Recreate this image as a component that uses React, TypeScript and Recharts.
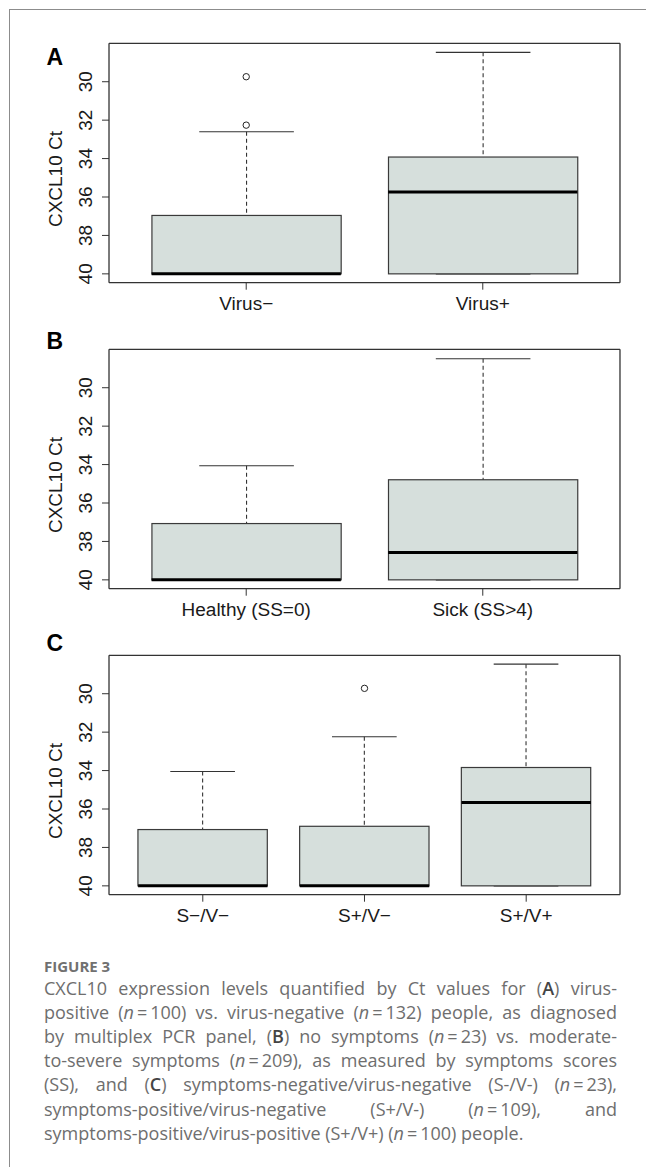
import React from 'react';
import { ComposedChart, Bar, Scatter, XAxis, YAxis } from 'recharts';

// shared y scale (Ct, reversed like the R plot)
const yDomain = [28.0, 40.46];
const yTicks = [30, 32, 34, 36, 38, 40];

// A: virus status
const catsA = ['Virus−', 'Virus+'];
const q1A = [40, 40];
const q3A = [36.96, 33.92];
const medA = [40, 35.74];
const wLoA = [40, 40];
const wHiA = [32.6, 28.47];
const outA = [[29.74, 32.26], []];

// B: symptom score
const catsB = ['Healthy (SS=0)', 'Sick (SS>4)'];
const q1B = [40, 40];
const q3B = [37.07, 34.79];
const medB = [40, 38.58];
const wLoB = [40, 40];
const wHiB = [34.06, 28.49];
const outB: number[][] = [[], []];

// C: symptoms x virus
const catsC = ['S−/V−', 'S+/V−', 'S+/V+'];
const q1C = [40, 40, 40];
const q3C = [37.07, 36.9, 33.84];
const medC = [40, 40, 35.66];
const wLoC = [40, 40, 40];
const wHiC = [34.05, 32.24, 28.46];
const outC = [[], [29.72], []];

const FONT = '"Liberation Sans", Arial, Helvetica, sans-serif';
const PLOT_W = 511;
const PLOT_H = 239.4;
const BOX_FILL = '#d6dfdc';
const INK = '#333';

const YTick = (p: any) => (
  <text
    x={p.x}
    y={p.y}
    transform={`rotate(-90 ${p.x} ${p.y})`}
    textAnchor="middle"
    fontSize={19}
    fill="#1a1a1a"
  >
    {p.payload.value}
  </text>
);

const YLabel = (p: any) => {
  const { x, y, height } = p.viewBox;
  const lx = x + 62;
  const ly = y + height / 2 + 16;
  return (
    <text x={lx} y={ly} transform={`rotate(-90 ${lx} ${ly})`} textAnchor="middle" fontSize={19} fill="#1a1a1a">
      CXCL10 Ct
    </text>
  );
};

const BoxShape = (p: any) => {
  const top = Math.min(p.y, p.y + p.height);
  const h = Math.abs(p.height);
  return <rect x={p.x} y={top} width={p.width} height={h} fill={BOX_FILL} stroke="#3a3a3a" strokeWidth={1.2} />;
};

const WhiskerShape = (p: any) => {
  const top = Math.min(p.y, p.y + p.height);
  const bottom = Math.max(p.y, p.y + p.height);
  const cx = p.x + p.width / 2;
  const half = p.width / 4;
  return (
    <g stroke={INK} strokeWidth={1.1}>
      <line x1={cx} x2={cx} y1={top} y2={bottom} strokeDasharray="4 3" />
      <line x1={cx - half} x2={cx + half} y1={top} y2={top} />
      <line x1={cx - half} x2={cx + half} y1={bottom} y2={bottom} />
    </g>
  );
};

const OutlierShape = (p: any) => (
  <circle cx={p.cx} cy={p.cy} r={3.2} fill="none" stroke="#222" strokeWidth={1} />
);

interface PanelProps {
  cats: string[];
  q1: number[];
  q3: number[];
  med: number[];
  wLo: number[];
  wHi: number[];
  out: number[][];
  top: number;
}

function BoxPanel({ cats, q1, q3, med, wLo, wHi, out, top }: PanelProps) {
  const n = cats.length;
  const band = PLOT_W / (n + 0.16);
  const pad = band * 0.08;
  const boxW = band * 0.8;

  const rows = cats.map((c, i) => ({
    cat: c,
    box: [q1[i], q3[i]],
    whisker: [wLo[i], wHi[i]],
    med: med[i],
  }));
  const outliers = cats.flatMap((c, i) => out[i].map((v) => ({ cat: c, v })));

  const MedianShape = (p: any) => (
    <line x1={p.cx - boxW / 2} x2={p.cx + boxW / 2} y1={p.cy} y2={p.cy} stroke="#000" strokeWidth={3} />
  );

  return (
    <div style={{ position: 'absolute', left: 0, top }}>
      <ComposedChart
        width={646}
        height={43.3 + PLOT_H + 35}
        data={rows}
        margin={{ top: 42.3, right: 25, bottom: 0, left: 0 }}
      >
        <XAxis
          dataKey="cat"
          type="category"
          allowDuplicatedCategory={false}
          height={35}
          padding={{ left: pad, right: pad }}
          tickSize={7}
          tickMargin={7}
          tick={{ fontSize: 19, fill: '#1a1a1a' }}
          stroke={INK}
          axisLine={{ stroke: INK, strokeWidth: 1.3 }}
          interval={0}
        />
        <XAxis
          xAxisId="w"
          dataKey="cat"
          type="category"
          orientation="top"
          allowDuplicatedCategory={false}
          height={1}
          padding={{ left: pad, right: pad }}
          tick={false}
          tickLine={false}
          stroke={INK}
          axisLine={{ stroke: INK, strokeWidth: 1.3 }}
        />
        <YAxis
          type="number"
          domain={yDomain}
          allowDataOverflow
          reversed
          ticks={yTicks}
          width={109}
          tickSize={7}
          tickMargin={10}
          tick={YTick}
          stroke={INK}
          axisLine={{ stroke: INK, strokeWidth: 1.3 }}
          label={<YLabelWrap />}
        />
        <YAxis
          yAxisId="r"
          type="number"
          orientation="right"
          domain={yDomain}
          allowDataOverflow
          reversed
          width={1}
          tick={false}
          tickLine={false}
          stroke={INK}
          axisLine={{ stroke: INK, strokeWidth: 1.3 }}
        />
        <Bar xAxisId="w" dataKey="whisker" barSize={boxW} shape={WhiskerShape} isAnimationActive={false} />
        <Bar dataKey="box" barSize={boxW} shape={BoxShape} isAnimationActive={false} />
        <Scatter dataKey="med" shape={MedianShape} isAnimationActive={false} />
        <Scatter yAxisId="r" data={outliers} dataKey="v" shape={OutlierShape} isAnimationActive={false} />
      </ComposedChart>
    </div>
  );
}

const YLabelWrap = (p: any) => <YLabel {...p} />;

const capLine: React.CSSProperties = {
  textAlign: 'justify',
  textAlignLast: 'justify',
};

const N = () => <i>n</i>;
const EQ = '\u2009=\u2009';
const boldRef: React.CSSProperties = { fontWeight: 600, color: '#444' };

export default function App() {
  return (
    <div style={{ position: 'absolute', left: 0, top: 0, width: 646, height: 1167, background: '#fff', fontFamily: FONT }}>
      <div
        style={{
          position: 'absolute',
          left: 9,
          top: 9,
          width: 637,
          height: 1158,
          borderTop: '1px solid #8c8c8c',
          borderLeft: '1px solid #8c8c8c',
        }}
      />
      <BoxPanel cats={catsA} q1={q1A} q3={q3A} med={medA} wLo={wLoA} wHi={wHiA} out={outA} top={0} />
      <BoxPanel cats={catsB} q1={q1B} q3={q3B} med={medB} wLo={wLoB} wHi={wHiB} out={outB} top={306} />
      <BoxPanel cats={catsC} q1={q1C} q3={q3C} med={medC} wLo={wLoC} wHi={wHiC} out={outC} top={611.7} />

      <svg width={646} height={1167} style={{ position: 'absolute', left: 0, top: 0, pointerEvents: 'none' }}>
        <g fontFamily={FONT} fontWeight="bold" fontSize={23} fill="#000">
          <text x={46.5} y={65}>A</text>
          <text x={46.5} y={349}>B</text>
          <text x={46.5} y={650.7}>C</text>
        </g>
      </svg>

      <div
        style={{
          position: 'absolute',
          left: 44,
          top: 955.9,
          fontFamily: '"Open Sans", sans-serif',
          fontWeight: 700,
          fontSize: 15,
          lineHeight: '20px',
          color: '#707070',
        }}
      >
        FIGURE 3
      </div>
      <div
        style={{
          position: 'absolute',
          left: 44,
          top: 975.6,
          width: 573,
          fontFamily: '"Open Sans", sans-serif',
          fontSize: 18,
          lineHeight: '24.2px',
          color: '#6e6e6e',
        }}
      >
        <div style={capLine}>CXCL10 expression levels quantified by Ct values for (<b style={boldRef}>A</b>) virus-</div>
        <div style={capLine}>positive (<N />{EQ}100) vs. virus-negative (<N />{EQ}132) people, as diagnosed</div>
        <div style={capLine}>by multiplex PCR panel, (<b style={boldRef}>B</b>) no symptoms (<N />{EQ}23) vs. moderate-</div>
        <div style={capLine}>to-severe symptoms (<N />{EQ}209), as measured by symptoms scores</div>
        <div style={capLine}>(SS), and (<b style={boldRef}>C</b>) symptoms-negative/virus-negative (S-/V-) (<N />{EQ}23),</div>
        <div style={capLine}>symptoms-positive/virus-negative (S+/V-) (<N />{EQ}109), and</div>
        <div>symptoms-positive/virus-positive (S+/V+) (<N />{EQ}100) people.</div>
      </div>
    </div>
  );
}
